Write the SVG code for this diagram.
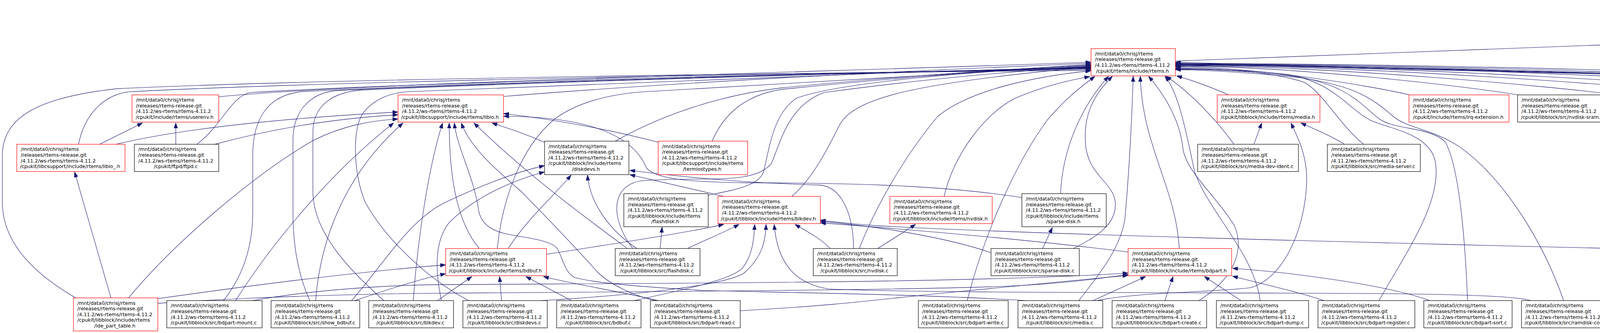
<svg xmlns="http://www.w3.org/2000/svg" width="6721" height="852" viewBox="0 0 6721 852">
<style>
.n rect{fill:#fff;stroke:#000;stroke-width:1.2}
.r rect{stroke:#f00}
.g rect{fill:#bfbfbf}
text{font-family:"DejaVu Sans",sans-serif;font-size:12.6px;fill:#000}
.c{text-anchor:middle}
#edges path{fill:none;stroke:#191970;stroke-width:1.1;marker-end:url(#a)}
</style>
<defs>
<marker id="a" viewBox="0 0 14 10" refX="14" refY="5" markerWidth="14" markerHeight="10" markerUnits="userSpaceOnUse" orient="auto" preserveAspectRatio="none"><path d="M0,0 L14,5 L0,10 z" fill="#191970" stroke="#191970" stroke-width="0.8"/></marker>
</defs>
<rect width="6721" height="852" fill="#fff"/>
<g transform="matrix(1,0,0,0.995,0,0)">
<g id="edges">
<path d="M3009,157 C3900,122 5200,72 6155,45"/>
<path d="M6323,125 L6289,77"/>
<path d="M6508,125 L6373,77"/>
<path d="M6258,244 C6200,190 6195,120 6232,77"/>
<path d="M6348,244 L6348,196"/>
<path d="M194,766 C80,700 6,620 6,520 L6,400 C6,300 100,250 300,228 C900,200 2200,186 2793,181"/>
<path d="M201,371 C215,300 260,245 330,236 C900,206 2200,186 2793,178"/>
<path d="M560,249 C900,214 2000,188 2793,160"/>
<path d="M504,371 C570,320 590,250 640,238 C1100,210 2200,186 2793,176"/>
<path d="M572,773 C630,700 647,620 647,546 L647,400 C647,300 690,245 770,236 C1200,212 2200,187 2793,175"/>
<path d="M793,773 C760,700 750,620 750,546 L750,360 C750,290 790,240 860,233 C1300,211 2200,187 2793,174"/>
<path d="M983,773 C900,700 801,600 801,492 L801,340 C801,280 840,240 920,232 C1400,210 2200,188 2793,173"/>
<path d="M1200,773 C1100,720 990,620 935,520 C905,450 900,330 930,290 C960,252 1000,240 1040,236 C1500,214 2200,189 2793,172"/>
<path d="M1289,248 C1700,214 2300,182 2793,163"/>
<path d="M1273,639 C1285,520 1330,380 1420,306 C1480,262 1560,242 1650,236 C2000,214 2400,190 2793,170"/>
<path d="M1575,363 C1650,320 1800,250 2000,226 C2300,196 2600,176 2793,168"/>
<path d="M1823,363 C1850,300 1900,246 2000,230 C2300,199 2600,177 2793,166"/>
<path d="M1813,502 C1880,488 1945,478 1955,440 C1970,380 1980,290 2040,252 C2150,212 2500,181 2793,171"/>
<path d="M2027,505 C2080,460 2120,380 2150,320 C2190,250 2350,212 2793,172"/>
<path d="M1620,639 C1560,560 1565,478 1640,465 C1800,452 1930,478 1975,420 C2000,360 2020,270 2110,238 C2350,205 2600,182 2793,171"/>
<path d="M2200,639 C2230,560 2300,420 2400,300 C2480,232 2650,196 2793,182"/>
<path d="M2417,505 C2440,400 2520,292 2600,252 C2680,218 2745,205 2790,197"/>
<path d="M2476,773 C2520,600 2600,420 2680,310 C2730,250 2770,222 2803,196"/>
<path d="M2715,498 C2720,380 2770,272 2838,196"/>
<path d="M2748,639 C2800,612 2860,580 2855,520 C2850,470 2790,452 2780,380 C2770,300 2800,242 2848,196"/>
<path d="M2762,773 C2800,722 2870,642 2880,560 C2890,450 2898,300 2901,196"/>
<path d="M3019,639 C3010,480 2925,380 2919,196"/>
<path d="M3069,773 C3150,722 3190,650 3160,580 C3110,500 3035,440 3028,380 C3020,300 2970,230 2940,196"/>
<path d="M3226,773 C3210,650 3090,540 3058,440 C3040,360 3020,240 2982,196"/>
<path d="M3159,371 C3110,302 3040,232 2985,196"/>
<path d="M3145,244 C3100,224 3050,206 3012,195"/>
<path d="M3608,244 C3518,222 3219,172 3009,172"/>
<path d="M3886,244 C3754,222 3316,170 3009,170"/>
<path d="M4141,244 C3971,222 3405,169 3009,169"/>
<path d="M4412,244 C4202,222 3500,168 3009,168"/>
<path d="M4656,244 C4409,222 3585,167 3009,167"/>
<path d="M4966,244 C4672,222 3694,166 3009,166"/>
<path d="M5222,244 C4890,222 3784,165 3009,165"/>
<path d="M5473,244 C5103,222 3871,164 3009,164"/>
<path d="M5792,244 C5375,222 3983,163 3009,163"/>
<path d="M3491,371 C3430,322 3390,242 3340,212 C3250,182 3100,176 3009,175"/>
<path d="M3530,773 C3600,650 3690,520 3675,420 C3665,345 3560,332 3510,310 C3450,280 3420,215 3300,192 C3200,180 3080,177 3009,177"/>
<path d="M3757,773 C3750,600 3735,430 3700,365 C3660,325 3570,335 3530,305 C3480,265 3450,220 3320,197 C3200,182 3080,178 3009,178"/>
<path d="M4003,773 C3950,620 3850,460 3740,380 C3670,332 3610,332 3570,302 C3515,255 3475,222 3330,200 C3200,186 3080,180 3009,179"/>
<path d="M5875,632 C5950,562 6060,450 6060,330 C6060,272 6040,246 6000,238 C5000,210 3600,170 3009,166"/>
<path d="M5886,773 C5990,722 6100,640 6100,540 L6100,330 C6100,272 6080,246 6040,240 C5000,212 3600,172 3009,164"/>
<path d="M6075,773 C6120,702 6150,622 6150,546 L6150,330 C6150,272 6130,246 6090,240 C5000,214 3600,174 3009,162"/>
<path d="M6272,766 C6240,682 6204,622 6204,573 L6204,330 C6204,272 6180,246 6140,240 C5000,216 3600,176 3009,160"/>
<path d="M297,371 C500,322 800,300 1019,288"/>
<path d="M550,371 C700,330 850,305 1019,295"/>
<path d="M329,766 C450,620 650,450 800,362 C880,322 950,310 1019,306"/>
<path d="M603,773 C700,620 850,440 1008,316"/>
<path d="M808,773 C820,620 880,450 1032,316"/>
<path d="M1058,773 C1070,600 1100,420 1133,316"/>
<path d="M1227,639 C1160,560 1150,420 1150,316"/>
<path d="M2624,773 C2400,758 2000,752 1802,747 C1650,738 1520,728 1470,713 C1445,700 1440,660 1425,637 C1405,615 1330,610 1290,600 C1250,590 1230,570 1225,540 C1215,460 1170,380 1163,316"/>
<path d="M1678,773 C1620,760 1560,730 1530,700 C1450,610 1380,540 1334,492 C1250,420 1200,370 1181,316"/>
<path d="M1606,639 C1500,560 1350,450 1213,316"/>
<path d="M1394,366 C1340,342 1300,330 1259,316"/>
<path d="M1686,366 C1550,330 1400,305 1289,292"/>
<path d="M2616,508 C2450,482 2250,470 1906,470 C1760,468 1680,460 1655,432 C1630,370 1550,300 1289,299"/>
<path d="M255,371 L365,316"/>
<path d="M450,371 L450,316"/>
<path d="M284,766 L191,442"/>
<path d="M1301,639 C1350,562 1420,502 1462,450"/>
<path d="M1630,639 C1560,592 1510,522 1504,450"/>
<path d="M1130,773 C1115,702 1110,622 1150,572 C1220,502 1320,462 1394,442"/>
<path d="M900,773 C980,682 1050,562 1141,520 C1220,482 1320,442 1394,426"/>
<path d="M1853,505 L1612,449"/>
<path d="M2185,639 C2185,562 2160,482 2100,476 C1900,470 1750,456 1612,438"/>
<path d="M1690,639 L1695,584"/>
<path d="M1399,654 C1550,630 1750,600 1853,577"/>
<path d="M1760,639 C1810,615 1860,595 1892,577"/>
<path d="M1623,773 C1750,745 1870,720 1900,690 C1925,660 1930,620 1932,577"/>
<path d="M1387,773 C1600,760 1850,737 1905,702 C1950,662 1960,622 1961,577"/>
<path d="M3918,773 C3880,760 3700,755 3360,754 C2800,752 2300,752 2121,743 C2040,730 1990,682 1982,577"/>
<path d="M2125,639 C2100,612 2060,592 2035,577"/>
<path d="M5719,672 C4500,650 2700,608 2240,580 C2180,575 2130,570 2100,566"/>
<path d="M2537,650 C2430,612 2250,582 2100,569"/>
<path d="M2888,648 C2600,612 2300,588 2100,573"/>
<path d="M404,768 C600,740 900,700 1141,681"/>
<path d="M908,773 C1000,742 1080,716 1141,704"/>
<path d="M1120,773 L1208,711"/>
<path d="M1284,773 L1279,711"/>
<path d="M1463,773 L1346,711"/>
<path d="M1685,773 C1600,752 1450,727 1391,711"/>
<path d="M404,780 C700,760 1000,755 1120,754 C1700,750 2400,745 2600,735 C2750,727 2840,712 2888,706"/>
<path d="M647,773 C800,745 1000,733 1121,732 C1700,728 2500,728 2888,702"/>
<path d="M1895,799 C2150,785 2250,770 2400,755 C2600,735 2800,715 2888,708"/>
<path d="M2798,773 L2933,711"/>
<path d="M2982,773 L3003,711"/>
<path d="M3177,773 L3083,711"/>
<path d="M3389,773 C3330,752 3230,730 3155,710"/>
<path d="M3660,773 C3550,732 3300,700 3155,690"/>
<path d="M2247,639 L2344,577"/>
<path d="M2669,639 L2694,585"/>
<path d="M3210,371 L3230,316"/>
<path d="M2809,773 C2900,752 3100,752 3200,740 C3280,720 3340,600 3345,470 C3348,400 3320,350 3305,316"/>
<path d="M3442,371 C3400,345 3360,330 3330,316"/>
<path d="M5804,773 L5812,718"/>
<path d="M5995,773 L5900,718"/>
<path d="M6193,768 C6100,740 6000,716 5936,703"/>
<path d="M4142,799 C4800,762 5300,712 5719,684"/>
</g>
<g id="n_init" class="n g"><rect x="6155" y="6" width="220" height="70"/><text><tspan x="6165" y="23.4">/mnt/data0/chrisj/rtems</tspan><tspan x="6165" y="38.1">/releases/rtems-release.git</tspan><tspan x="6165" y="52.8">/4.11.2/ws-rtems/rtems-4.11.2</tspan><tspan class="c" x="6263" y="67.5">/cpukit/sapi/include/rtems/init.h</tspan></text></g>
<g id="n_rtems" class="n r"><rect x="2793" y="125" width="216" height="70"/><text><tspan x="2803" y="142.4">/mnt/data0/chrisj/rtems</tspan><tspan x="2803" y="157.1">/releases/rtems-release.git</tspan><tspan x="2803" y="171.8">/4.11.2/ws-rtems/rtems-4.11.2</tspan><tspan class="c" x="2899" y="186.5">/cpukit/rtems/include/rtems.h</tspan></text></g>
<g id="n_sptables" class="n"><rect x="6220" y="125" width="255" height="70"/><text><tspan x="6230" y="142.4">/mnt/data0/chrisj/rtems</tspan><tspan x="6230" y="157.1">/releases/rtems-release.git</tspan><tspan x="6230" y="171.8">/4.11.2/ws-rtems/rtems-4.11.2</tspan><tspan class="c" x="6345.5" y="186.5">/cpukit/sapi/include/rtems/sptables.h</tspan></text></g>
<g id="n_exshutdown" class="n"><rect x="6499" y="125" width="217" height="70"/><text><tspan x="6509" y="142.4">/mnt/data0/chrisj/rtems</tspan><tspan x="6509" y="157.1">/releases/rtems-release.git</tspan><tspan x="6509" y="171.8">/4.11.2/ws-rtems/rtems-4.11.2</tspan><tspan class="c" x="6605.5" y="186.5">/cpukit/sapi/src/exshutdown.c</tspan></text></g>
<g id="n_userenv" class="n r"><rect x="338" y="244" width="222" height="70"/><text><tspan x="348" y="261.4">/mnt/data0/chrisj/rtems</tspan><tspan x="348" y="276.1">/releases/rtems-release.git</tspan><tspan x="348" y="290.8">/4.11.2/ws-rtems/rtems-4.11.2</tspan><tspan class="c" x="447" y="305.5">/cpukit/include/rtems/userenv.h</tspan></text></g>
<g id="n_libio" class="n r"><rect x="1019" y="244" width="270" height="70"/><text><tspan x="1029" y="261.4">/mnt/data0/chrisj/rtems</tspan><tspan x="1029" y="276.1">/releases/rtems-release.git</tspan><tspan x="1029" y="290.8">/4.11.2/ws-rtems/rtems-4.11.2</tspan><tspan class="c" x="1152" y="305.5">/cpukit/libcsupport/include/rtems/libio.h</tspan></text></g>
<g id="n_media_h" class="n r"><rect x="3116" y="244" width="263" height="70"/><text><tspan x="3126" y="261.4">/mnt/data0/chrisj/rtems</tspan><tspan x="3126" y="276.1">/releases/rtems-release.git</tspan><tspan x="3126" y="290.8">/4.11.2/ws-rtems/rtems-4.11.2</tspan><tspan class="c" x="3245.5" y="305.5">/cpukit/libblock/include/rtems/media.h</tspan></text></g>
<g id="n_irqext" class="n r"><rect x="3607" y="244" width="256" height="70"/><text><tspan x="3617" y="261.4">/mnt/data0/chrisj/rtems</tspan><tspan x="3617" y="276.1">/releases/rtems-release.git</tspan><tspan x="3617" y="290.8">/4.11.2/ws-rtems/rtems-4.11.2</tspan><tspan class="c" x="3733" y="305.5">/cpukit/include/rtems/irq-extension.h</tspan></text></g>
<g id="n_nvsram" class="n"><rect x="3885" y="244" width="231" height="70"/><text><tspan x="3895" y="261.4">/mnt/data0/chrisj/rtems</tspan><tspan x="3895" y="276.1">/releases/rtems-release.git</tspan><tspan x="3895" y="290.8">/4.11.2/ws-rtems/rtems-4.11.2</tspan><tspan class="c" x="3998.5" y="305.5">/cpukit/libblock/src/nvdisk-sram.c</tspan></text></g>
<g id="n_ringbuf" class="n"><rect x="4140" y="244" width="247" height="70"/><text><tspan x="4150" y="261.4">/mnt/data0/chrisj/rtems</tspan><tspan x="4150" y="276.1">/releases/rtems-release.git</tspan><tspan x="4150" y="290.8">/4.11.2/ws-rtems/rtems-4.11.2</tspan><tspan class="c" x="4261.5" y="305.5">/cpukit/libcsupport/include/ringbuf.h</tspan></text></g>
<g id="n_rtc" class="n"><rect x="4411" y="244" width="221" height="70"/><text><tspan x="4421" y="261.4">/mnt/data0/chrisj/rtems</tspan><tspan x="4421" y="276.1">/releases/rtems-release.git</tspan><tspan x="4421" y="290.8">/4.11.2/ws-rtems/rtems-4.11.2</tspan><tspan class="c" x="4519.5" y="305.5">/cpukit/libcsupport/include/rtc.h</tspan></text></g>
<g id="n_malloc" class="n r"><rect x="4655" y="244" width="288" height="70"/><text><tspan x="4665" y="261.4">/mnt/data0/chrisj/rtems</tspan><tspan x="4665" y="276.1">/releases/rtems-release.git</tspan><tspan x="4665" y="290.8">/4.11.2/ws-rtems/rtems-4.11.2</tspan><tspan class="c" x="4797" y="305.5">/cpukit/libcsupport/include/rtems/malloc.h</tspan></text></g>
<g id="n_assert" class="n"><rect x="4965" y="244" width="231" height="70"/><text><tspan x="4975" y="261.4">/mnt/data0/chrisj/rtems</tspan><tspan x="4975" y="276.1">/releases/rtems-release.git</tspan><tspan x="4975" y="290.8">/4.11.2/ws-rtems/rtems-4.11.2</tspan><tspan class="c" x="5078.5" y="305.5">/cpukit/libcsupport/src/__assert.c</tspan></text></g>
<g id="n_times" class="n"><rect x="5221" y="244" width="227" height="70"/><text><tspan x="5231" y="261.4">/mnt/data0/chrisj/rtems</tspan><tspan x="5231" y="276.1">/releases/rtems-release.git</tspan><tspan x="5231" y="290.8">/4.11.2/ws-rtems/rtems-4.11.2</tspan><tspan class="c" x="5332.5" y="305.5">/cpukit/libcsupport/src/__times.c</tspan></text></g>
<g id="n_assoc" class="n"><rect x="5472" y="244" width="295" height="70"/><text><tspan x="5482" y="261.4">/mnt/data0/chrisj/rtems</tspan><tspan x="5482" y="276.1">/releases/rtems-release.git</tspan><tspan x="5482" y="290.8">/4.11.2/ws-rtems/rtems-4.11.2</tspan><tspan class="c" x="5617.5" y="305.5">/cpukit/libcsupport/src/assoclocalbyname.c</tspan></text></g>
<g id="n_i2c" class="n r"><rect x="5791" y="244" width="223" height="70"/><text><tspan x="5801" y="261.4">/mnt/data0/chrisj/rtems</tspan><tspan x="5801" y="276.1">/releases/rtems-release.git</tspan><tspan x="5801" y="290.8">/4.11.2/ws-rtems/rtems-4.11.2</tspan><tspan class="c" x="5900.5" y="305.5">/cpukit/dev/include/dev/i2c/i2c.h</tspan></text></g>
<g id="n_exinit" class="n"><rect x="6240" y="244" width="216" height="70"/><text><tspan x="6250" y="261.4">/mnt/data0/chrisj/rtems</tspan><tspan x="6250" y="276.1">/releases/rtems-release.git</tspan><tspan x="6250" y="290.8">/4.11.2/ws-rtems/rtems-4.11.2</tspan><tspan class="c" x="6346" y="305.5">/cpukit/sapi/src/exinit.c</tspan></text></g>
<g id="n_libio_" class="n r"><rect x="43" y="371" width="277" height="70"/><text><tspan x="53" y="388.4">/mnt/data0/chrisj/rtems</tspan><tspan x="53" y="403.1">/releases/rtems-release.git</tspan><tspan x="53" y="417.8">/4.11.2/ws-rtems/rtems-4.11.2</tspan><tspan class="c" x="179.5" y="432.5">/cpukit/libcsupport/include/rtems/libio_.h</tspan></text></g>
<g id="n_ftpd" class="n"><rect x="344" y="371" width="216" height="70"/><text><tspan x="354" y="388.4">/mnt/data0/chrisj/rtems</tspan><tspan x="354" y="403.1">/releases/rtems-release.git</tspan><tspan x="354" y="417.8">/4.11.2/ws-rtems/rtems-4.11.2</tspan><tspan class="c" x="450" y="432.5">/cpukit/ftpd/ftpd.c</tspan></text></g>
<g id="n_diskdevs_h" class="n"><rect x="1394" y="363" width="216" height="86"/><text><tspan x="1404" y="380.5">/mnt/data0/chrisj/rtems</tspan><tspan x="1404" y="395.2">/releases/rtems-release.git</tspan><tspan x="1404" y="409.9">/4.11.2/ws-rtems/rtems-4.11.2</tspan><tspan x="1404" y="424.6">/cpukit/libblock/include/rtems</tspan><tspan class="c" x="1500" y="439.3">/diskdevs.h</tspan></text></g>
<g id="n_termios" class="n r"><rect x="1685" y="363" width="229" height="86"/><text><tspan x="1695" y="380.5">/mnt/data0/chrisj/rtems</tspan><tspan x="1695" y="395.2">/releases/rtems-release.git</tspan><tspan x="1695" y="409.9">/4.11.2/ws-rtems/rtems-4.11.2</tspan><tspan x="1695" y="424.6">/cpukit/libcsupport/include/rtems</tspan><tspan class="c" x="1797.5" y="439.3">/termiostypes.h</tspan></text></g>
<g id="n_mdi" class="n"><rect x="3066" y="371" width="258" height="70"/><text><tspan x="3076" y="388.4">/mnt/data0/chrisj/rtems</tspan><tspan x="3076" y="403.1">/releases/rtems-release.git</tspan><tspan x="3076" y="417.8">/4.11.2/ws-rtems/rtems-4.11.2</tspan><tspan class="c" x="3193" y="432.5">/cpukit/libblock/src/media-dev-ident.c</tspan></text></g>
<g id="n_mserver" class="n"><rect x="3398" y="371" width="238" height="70"/><text><tspan x="3408" y="388.4">/mnt/data0/chrisj/rtems</tspan><tspan x="3408" y="403.1">/releases/rtems-release.git</tspan><tspan x="3408" y="417.8">/4.11.2/ws-rtems/rtems-4.11.2</tspan><tspan class="c" x="3515" y="432.5">/cpukit/libblock/src/media-server.c</tspan></text></g>
<g id="n_flashdisk_h" class="n"><rect x="1597" y="498" width="216" height="85"/><text><tspan x="1607" y="515.5">/mnt/data0/chrisj/rtems</tspan><tspan x="1607" y="530.2">/releases/rtems-release.git</tspan><tspan x="1607" y="544.9">/4.11.2/ws-rtems/rtems-4.11.2</tspan><tspan x="1607" y="559.6">/cpukit/libblock/include/rtems</tspan><tspan class="c" x="1703" y="574.3">/flashdisk.h</tspan></text></g>
<g id="n_blkdev_h" class="n r"><rect x="1838" y="505" width="262" height="70"/><text><tspan x="1848" y="522.4">/mnt/data0/chrisj/rtems</tspan><tspan x="1848" y="537.1">/releases/rtems-release.git</tspan><tspan x="1848" y="551.8">/4.11.2/ws-rtems/rtems-4.11.2</tspan><tspan class="c" x="1967" y="566.5">/cpukit/libblock/include/rtems/blkdev.h</tspan></text></g>
<g id="n_nvdisk_h" class="n r"><rect x="2278" y="505" width="262" height="70"/><text><tspan x="2288" y="522.4">/mnt/data0/chrisj/rtems</tspan><tspan x="2288" y="537.1">/releases/rtems-release.git</tspan><tspan x="2288" y="551.8">/4.11.2/ws-rtems/rtems-4.11.2</tspan><tspan class="c" x="2407" y="566.5">/cpukit/libblock/include/rtems/nvdisk.h</tspan></text></g>
<g id="n_sparse_h" class="n"><rect x="2616" y="498" width="216" height="85"/><text><tspan x="2626" y="515.5">/mnt/data0/chrisj/rtems</tspan><tspan x="2626" y="530.2">/releases/rtems-release.git</tspan><tspan x="2626" y="544.9">/4.11.2/ws-rtems/rtems-4.11.2</tspan><tspan x="2626" y="559.6">/cpukit/libblock/include/rtems</tspan><tspan class="c" x="2722" y="574.3">/sparse-disk.h</tspan></text></g>
<g id="n_bdbuf_h" class="n r"><rect x="1141" y="639" width="258" height="70"/><text><tspan x="1151" y="656.4">/mnt/data0/chrisj/rtems</tspan><tspan x="1151" y="671.1">/releases/rtems-release.git</tspan><tspan x="1151" y="685.8">/4.11.2/ws-rtems/rtems-4.11.2</tspan><tspan class="c" x="1268" y="700.5">/cpukit/libblock/include/rtems/bdbuf.h</tspan></text></g>
<g id="n_flashdisk_c" class="n"><rect x="1575" y="639" width="217" height="70"/><text><tspan x="1585" y="656.4">/mnt/data0/chrisj/rtems</tspan><tspan x="1585" y="671.1">/releases/rtems-release.git</tspan><tspan x="1585" y="685.8">/4.11.2/ws-rtems/rtems-4.11.2</tspan><tspan class="c" x="1681.5" y="700.5">/cpukit/libblock/src/flashdisk.c</tspan></text></g>
<g id="n_nvdisk_c" class="n"><rect x="2082" y="639" width="215" height="70"/><text><tspan x="2092" y="656.4">/mnt/data0/chrisj/rtems</tspan><tspan x="2092" y="671.1">/releases/rtems-release.git</tspan><tspan x="2092" y="685.8">/4.11.2/ws-rtems/rtems-4.11.2</tspan><tspan class="c" x="2187.5" y="700.5">/cpukit/libblock/src/nvdisk.c</tspan></text></g>
<g id="n_sparse_c" class="n"><rect x="2537" y="639" width="226" height="70"/><text><tspan x="2547" y="656.4">/mnt/data0/chrisj/rtems</tspan><tspan x="2547" y="671.1">/releases/rtems-release.git</tspan><tspan x="2547" y="685.8">/4.11.2/ws-rtems/rtems-4.11.2</tspan><tspan class="c" x="2648" y="700.5">/cpukit/libblock/src/sparse-disk.c</tspan></text></g>
<g id="n_bdpart_h" class="n r"><rect x="2888" y="639" width="265" height="70"/><text><tspan x="2898" y="656.4">/mnt/data0/chrisj/rtems</tspan><tspan x="2898" y="671.1">/releases/rtems-release.git</tspan><tspan x="2898" y="685.8">/4.11.2/ws-rtems/rtems-4.11.2</tspan><tspan class="c" x="3018.5" y="700.5">/cpukit/libblock/include/rtems/bdpart.h</tspan></text></g>
<g id="n_ramdisk_h" class="n"><rect x="5719" y="632" width="216" height="85"/><text><tspan x="5729" y="649.5">/mnt/data0/chrisj/rtems</tspan><tspan x="5729" y="664.2">/releases/rtems-release.git</tspan><tspan x="5729" y="678.9">/4.11.2/ws-rtems/rtems-4.11.2</tspan><tspan x="5729" y="693.6">/cpukit/libblock/include/rtems</tspan><tspan class="c" x="5825" y="708.3">/ramdisk.h</tspan></text></g>
<g id="n_ide" class="n r"><rect x="188" y="766" width="216" height="85"/><text><tspan x="198" y="783.5">/mnt/data0/chrisj/rtems</tspan><tspan x="198" y="798.2">/releases/rtems-release.git</tspan><tspan x="198" y="812.9">/4.11.2/ws-rtems/rtems-4.11.2</tspan><tspan x="198" y="827.6">/cpukit/libblock/include/rtems</tspan><tspan class="c" x="294" y="842.3">/ide_part_table.h</tspan></text></g>
<g id="n_bdmount" class="n"><rect x="427" y="773" width="244" height="70"/><text><tspan x="437" y="790.4">/mnt/data0/chrisj/rtems</tspan><tspan x="437" y="805.1">/releases/rtems-release.git</tspan><tspan x="437" y="819.8">/4.11.2/ws-rtems/rtems-4.11.2</tspan><tspan class="c" x="547" y="834.5">/cpukit/libblock/src/bdpart-mount.c</tspan></text></g>
<g id="n_showbdbuf" class="n"><rect x="694" y="773" width="227" height="70"/><text><tspan x="704" y="790.4">/mnt/data0/chrisj/rtems</tspan><tspan x="704" y="805.1">/releases/rtems-release.git</tspan><tspan x="704" y="819.8">/4.11.2/ws-rtems/rtems-4.11.2</tspan><tspan class="c" x="805.5" y="834.5">/cpukit/libblock/src/show_bdbuf.c</tspan></text></g>
<g id="n_blkdev_c" class="n"><rect x="944" y="773" width="217" height="70"/><text><tspan x="954" y="790.4">/mnt/data0/chrisj/rtems</tspan><tspan x="954" y="805.1">/releases/rtems-release.git</tspan><tspan x="954" y="819.8">/4.11.2/ws-rtems/rtems-4.11.2</tspan><tspan class="c" x="1050.5" y="834.5">/cpukit/libblock/src/blkdev.c</tspan></text></g>
<g id="n_diskdevs_c" class="n"><rect x="1185" y="773" width="216" height="70"/><text><tspan x="1195" y="790.4">/mnt/data0/chrisj/rtems</tspan><tspan x="1195" y="805.1">/releases/rtems-release.git</tspan><tspan x="1195" y="819.8">/4.11.2/ws-rtems/rtems-4.11.2</tspan><tspan class="c" x="1291" y="834.5">/cpukit/libblock/src/diskdevs.c</tspan></text></g>
<g id="n_bdbuf_c" class="n"><rect x="1425" y="773" width="216" height="70"/><text><tspan x="1435" y="790.4">/mnt/data0/chrisj/rtems</tspan><tspan x="1435" y="805.1">/releases/rtems-release.git</tspan><tspan x="1435" y="819.8">/4.11.2/ws-rtems/rtems-4.11.2</tspan><tspan class="c" x="1531" y="834.5">/cpukit/libblock/src/bdbuf.c</tspan></text></g>
<g id="n_bdread" class="n"><rect x="1665" y="773" width="230" height="70"/><text><tspan x="1675" y="790.4">/mnt/data0/chrisj/rtems</tspan><tspan x="1675" y="805.1">/releases/rtems-release.git</tspan><tspan x="1675" y="819.8">/4.11.2/ws-rtems/rtems-4.11.2</tspan><tspan class="c" x="1778" y="834.5">/cpukit/libblock/src/bdpart-read.c</tspan></text></g>
<g id="n_bdwrite" class="n"><rect x="2351" y="773" width="230" height="70"/><text><tspan x="2361" y="790.4">/mnt/data0/chrisj/rtems</tspan><tspan x="2361" y="805.1">/releases/rtems-release.git</tspan><tspan x="2361" y="819.8">/4.11.2/ws-rtems/rtems-4.11.2</tspan><tspan class="c" x="2464" y="834.5">/cpukit/libblock/src/bdpart-write.c</tspan></text></g>
<g id="n_media_c" class="n"><rect x="2606" y="773" width="217" height="70"/><text><tspan x="2616" y="790.4">/mnt/data0/chrisj/rtems</tspan><tspan x="2616" y="805.1">/releases/rtems-release.git</tspan><tspan x="2616" y="819.8">/4.11.2/ws-rtems/rtems-4.11.2</tspan><tspan class="c" x="2712.5" y="834.5">/cpukit/libblock/src/media.c</tspan></text></g>
<g id="n_bdcreate" class="n"><rect x="2847" y="773" width="242" height="70"/><text><tspan x="2857" y="790.4">/mnt/data0/chrisj/rtems</tspan><tspan x="2857" y="805.1">/releases/rtems-release.git</tspan><tspan x="2857" y="819.8">/4.11.2/ws-rtems/rtems-4.11.2</tspan><tspan class="c" x="2966" y="834.5">/cpukit/libblock/src/bdpart-create.c</tspan></text></g>
<g id="n_bddump" class="n"><rect x="3114" y="773" width="236" height="70"/><text><tspan x="3124" y="790.4">/mnt/data0/chrisj/rtems</tspan><tspan x="3124" y="805.1">/releases/rtems-release.git</tspan><tspan x="3124" y="819.8">/4.11.2/ws-rtems/rtems-4.11.2</tspan><tspan class="c" x="3230" y="834.5">/cpukit/libblock/src/bdpart-dump.c</tspan></text></g>
<g id="n_bdreg" class="n"><rect x="3374" y="773" width="248" height="70"/><text><tspan x="3384" y="790.4">/mnt/data0/chrisj/rtems</tspan><tspan x="3384" y="805.1">/releases/rtems-release.git</tspan><tspan x="3384" y="819.8">/4.11.2/ws-rtems/rtems-4.11.2</tspan><tspan class="c" x="3496" y="834.5">/cpukit/libblock/src/bdpart-register.c</tspan></text></g>
<g id="n_bdsort" class="n"><rect x="3645" y="773" width="226" height="70"/><text><tspan x="3655" y="790.4">/mnt/data0/chrisj/rtems</tspan><tspan x="3655" y="805.1">/releases/rtems-release.git</tspan><tspan x="3655" y="819.8">/4.11.2/ws-rtems/rtems-4.11.2</tspan><tspan class="c" x="3756" y="834.5">/cpukit/libblock/src/bdpart-sort.c</tspan></text></g>
<g id="n_rdconfig" class="n"><rect x="3895" y="773" width="247" height="70"/><text><tspan x="3905" y="790.4">/mnt/data0/chrisj/rtems</tspan><tspan x="3905" y="805.1">/releases/rtems-release.git</tspan><tspan x="3905" y="819.8">/4.11.2/ws-rtems/rtems-4.11.2</tspan><tspan class="c" x="4016.5" y="834.5">/cpukit/libblock/src/ramdisk-config.c</tspan></text></g>
<g id="n_rddriver" class="n"><rect x="5672" y="773" width="245" height="70"/><text><tspan x="5682" y="790.4">/mnt/data0/chrisj/rtems</tspan><tspan x="5682" y="805.1">/releases/rtems-release.git</tspan><tspan x="5682" y="819.8">/4.11.2/ws-rtems/rtems-4.11.2</tspan><tspan class="c" x="5792.5" y="834.5">/cpukit/libblock/src/ramdisk-driver.c</tspan></text></g>
<g id="n_rdinit" class="n"><rect x="5941" y="773" width="227" height="70"/><text><tspan x="5951" y="790.4">/mnt/data0/chrisj/rtems</tspan><tspan x="5951" y="805.1">/releases/rtems-release.git</tspan><tspan x="5951" y="819.8">/4.11.2/ws-rtems/rtems-4.11.2</tspan><tspan class="c" x="6052.5" y="834.5">/cpukit/libblock/src/ramdisk-init.c</tspan></text></g>
<g id="n_rdreg" class="n"><rect x="6193" y="766" width="216" height="85"/><text><tspan x="6203" y="783.5">/mnt/data0/chrisj/rtems</tspan><tspan x="6203" y="798.2">/releases/rtems-release.git</tspan><tspan x="6203" y="812.9">/4.11.2/ws-rtems/rtems-4.11.2</tspan><tspan x="6203" y="827.6">/cpukit/libblock/src/ramdisk</tspan><tspan class="c" x="6299" y="842.3">-register.c</tspan></text></g>
</g>
</svg>
